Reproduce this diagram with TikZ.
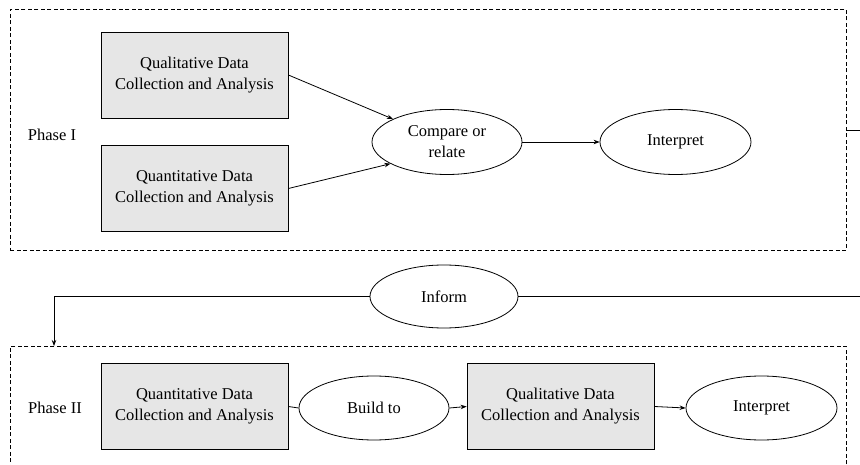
\documentclass[tikz,border=0pt]{standalone}
\usepackage{fontspec}
\setmainfont{Liberation Serif}
\usetikzlibrary{shapes.geometric,arrows.meta}
\definecolor{boxgray}{HTML}{E6E6E6}
\tikzset{
  x=1pt, y=-1pt,
  every node/.style={font=\fontsize{16.5}{21}\selectfont, align=center, inner sep=0pt},
  phasebox/.style={draw, dash pattern=on 4pt off 2.5pt, line width=0.7pt, minimum width=836pt, anchor=north west},
  databox/.style={draw, fill=boxgray, line width=0.8pt, minimum width=187pt, minimum height=86pt},
  oval/.style={draw, ellipse, line width=0.8pt, minimum width=150pt, minimum height=65pt},
  conn/.style={line width=0.8pt},
  arr/.style={conn, -{Stealth[length=6pt,width=4.5pt]}},
}
\begin{document}
\begin{tikzpicture}
\useasboundingbox (0,0) rectangle (860,465);
\clip (0,0) rectangle (860,465);
% phase boxes
\node[phasebox, minimum height=241pt] (p1) at (10,9) {};
\node[phasebox, minimum height=140pt] (p2) at (10,346) {};
\node (ph1) at (52,135) {Phase I};
\node (ph2) at (55,408) {Phase II};
% Phase I
\node[databox] (b1) at (194.5,75) {Qualitative Data\\Collection and Analysis};
\node[databox] (b2) at (194.5,188.5) {Quantitative Data\\Collection and Analysis};
\node[oval] (cmp) at (447,142) {Compare or\\relate};
\node[oval, minimum width=151pt] (int1) at (675.5,142) {Interpret};
\draw[arr] (b1.east) -- (cmp.157);
\draw[arr] (b2.east) -- (cmp.201);
\draw[arr] (cmp) -- (int1);
% link to the right
\coordinate (r1) at (865,130);
\draw[conn] (p1.east |- 0,130) -- (r1);
% Inform
\node[oval, minimum width=148pt, minimum height=63pt] (inf) at (444,296.5) {Inform};
\coordinate (r2) at (865,296.5);
\coordinate (lc) at (54,296.5);
\draw[conn] (inf.east) -- (r2);
\draw[arr] (inf.west) -- (lc) -- (lc |- p2.north);
% Phase II
\node[databox] (b3) at (194.5,406.5) {Quantitative Data\\Collection and Analysis};
\node[oval, minimum height=64pt] (bld) at (374,408) {Build to};
\node[databox] (b4) at (560.5,406.5) {Qualitative Data\\Collection and Analysis};
\node[oval, minimum width=151pt, minimum height=64pt] (int2) at (761.5,408) {Interpret};
\draw[conn] (b3.east) -- (bld.west);
\draw[arr] (bld.east) -- (b4.west);
\draw[arr] (b4.east) -- (int2.west);
\end{tikzpicture}
\end{document}
